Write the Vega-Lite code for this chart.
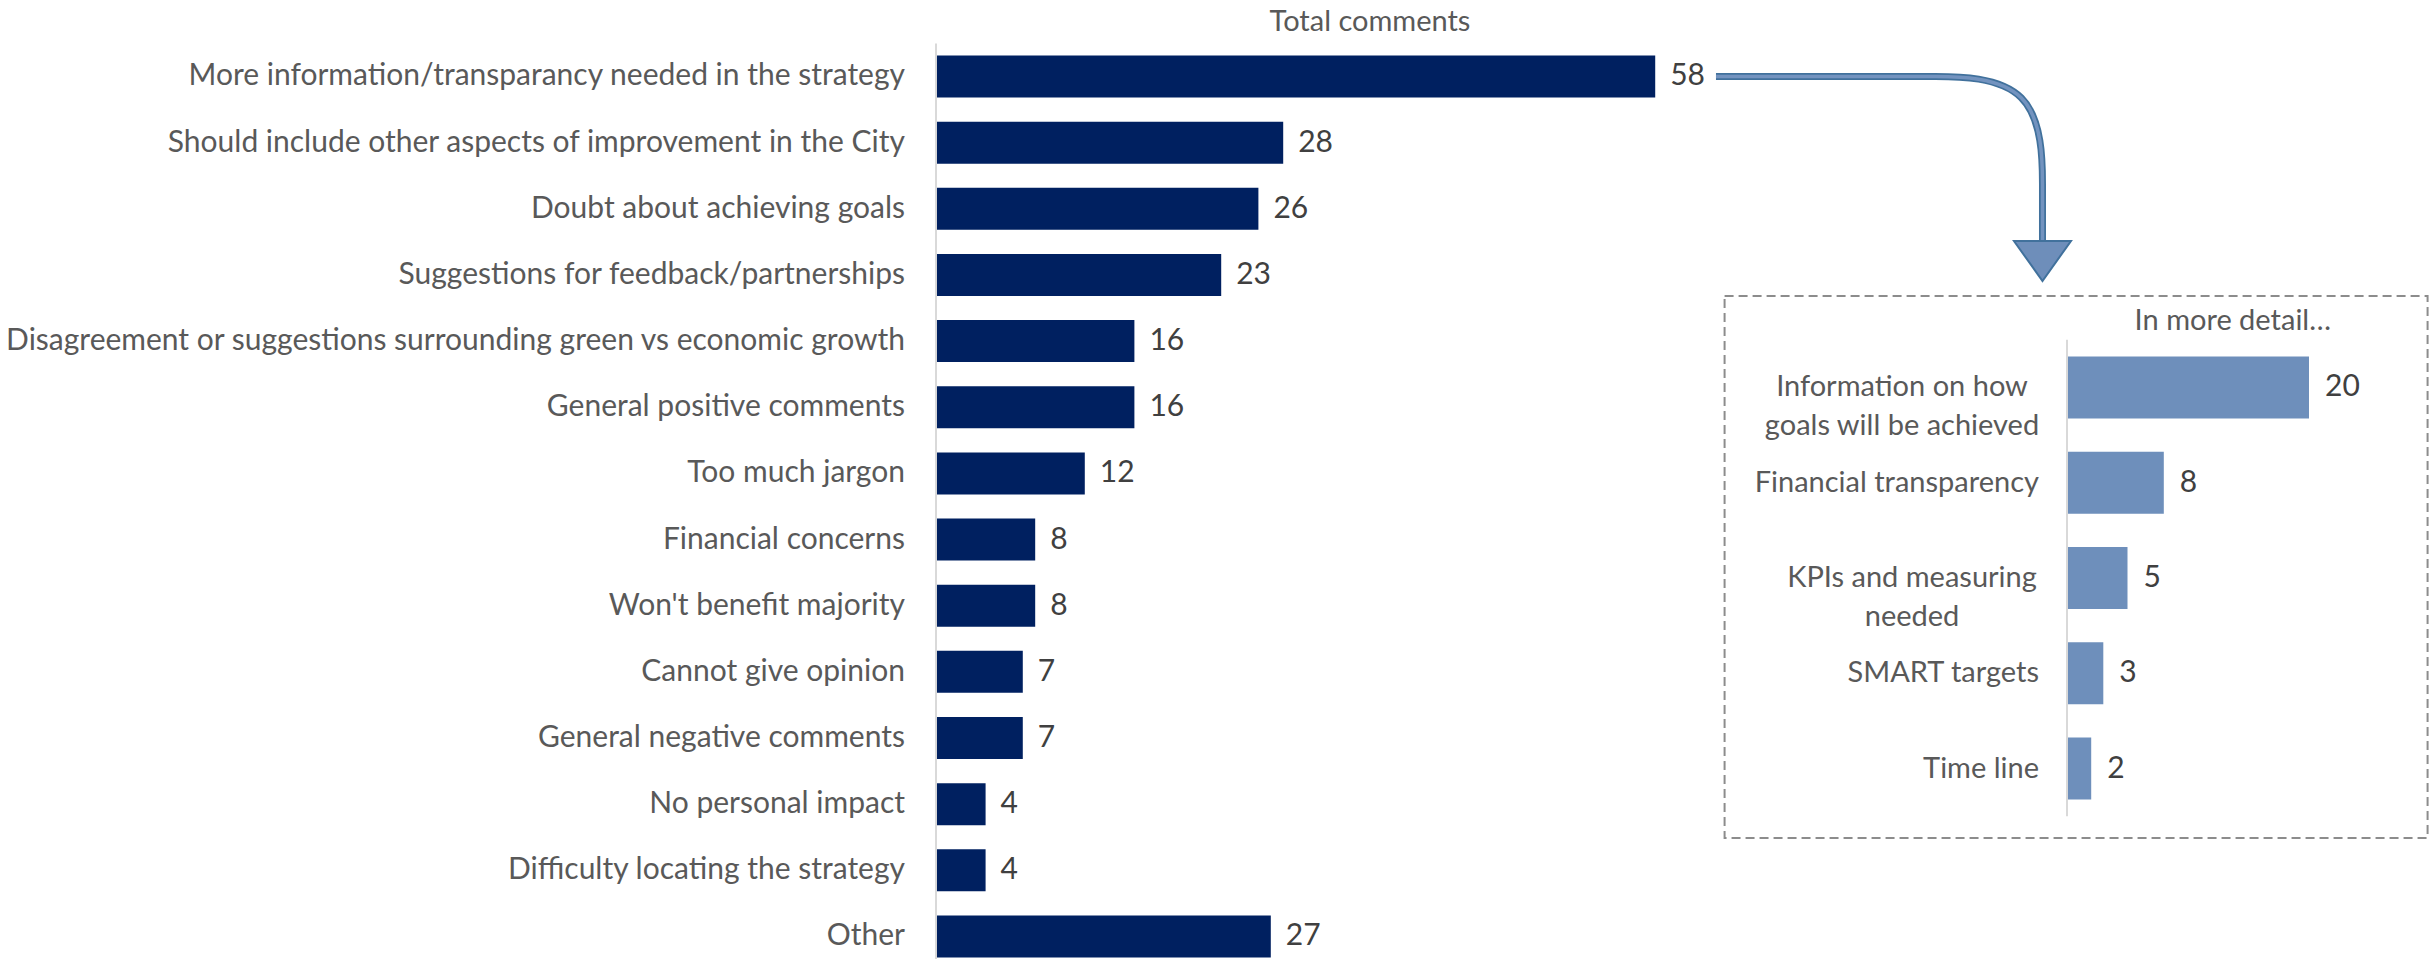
{
  "$schema": "https://vega.github.io/schema/vega-lite/v6.json",
  "width": 2430,
  "height": 959,
  "autosize": {"type": "none"},
  "padding": 0,
  "background": "white",
  "config": {"view": {"stroke": null}, "text": {"font": "Lato"}},
  "datasets": {
    "main": [
      {"category": "More information/transparancy needed in the strategy", "count": 58},
      {"category": "Should include other aspects of improvement in the City", "count": 28},
      {"category": "Doubt about achieving goals", "count": 26},
      {"category": "Suggestions for feedback/partnerships", "count": 23},
      {"category": "Disagreement or suggestions surrounding green vs economic growth", "count": 16},
      {"category": "General positive comments", "count": 16},
      {"category": "Too much jargon", "count": 12},
      {"category": "Financial concerns", "count": 8},
      {"category": "Won't benefit majority", "count": 8},
      {"category": "Cannot give opinion", "count": 7},
      {"category": "General negative comments", "count": 7},
      {"category": "No personal impact", "count": 4},
      {"category": "Difficulty locating the strategy", "count": 4},
      {"category": "Other", "count": 27}
    ],
    "detail": [
      {"category": "Information on how\ngoals will be achieved", "count": 20},
      {"category": "Financial transparency", "count": 8},
      {"category": "KPIs and measuring\nneeded", "count": 5},
      {"category": "SMART targets", "count": 3},
      {"category": "Time line", "count": 2}
    ]
  },
  "layer": [
    {
      "data": {"name": "main"},
      "encoding": {
        "y": {"field": "category", "type": "nominal", "sort": null, "axis": null,
              "scale": {"paddingInner": 0.365, "paddingOuter": 0.431, "align": 0.973}},
        "x": {"field": "count", "type": "quantitative", "axis": null,
              "scale": {"domain": [-75.48, 120.48], "nice": false, "zero": false}}
      },
      "layer": [
        {"mark": {"type": "bar", "color": "#002060"}, "encoding": {"x2": {"datum": 0}}},
        {"mark": {"type": "text", "align": "left", "baseline": "middle", "dx": 15, "fontSize": 30, "color": "#404040"},
         "encoding": {"text": {"field": "count", "type": "quantitative"}}},
        {"mark": {"type": "text", "align": "right", "baseline": "middle", "dx": -31, "fontSize": 30, "color": "#595959"},
         "encoding": {"x": {"datum": 0}, "text": {"field": "category", "type": "nominal"}}}
      ]
    },
    {
      "encoding": {
        "x": {"type": "quantitative", "axis": null,
              "scale": {"domain": [-75.48, 120.48], "nice": false, "zero": false}},
        "y": {"type": "quantitative", "axis": null,
              "scale": {"domain": [-1.1565, 13.3409], "reverse": true, "nice": false, "zero": false}}
      },
      "layer": [
        {"data": {"values": [{}]},
         "mark": {"type": "rule", "color": "#D9D9D9", "strokeWidth": 2},
         "encoding": {"x": {"datum": 0}, "y": {"datum": -0.5}, "y2": {"datum": 13.6}}},
        {"data": {"values": [{"title": "Total comments"}]},
         "mark": {"type": "text", "align": "center", "baseline": "middle", "fontSize": 29, "color": "#595959"},
         "encoding": {"x": {"datum": 35}, "y": {"datum": -0.828}, "text": {"field": "title", "type": "nominal"}}},
        {"data": {"values": [
          {"ax": 62.9, "ay": 0, "seq": 1},
          {"ax": 78.45, "ay": 0, "seq": 2},
          {"ax": 78.95, "ay": 0, "seq": 3},
          {"ax": 89.23, "ay": 0, "seq": 4},
          {"ax": 89.23, "ay": 1.93, "seq": 5},
          {"ax": 89.23, "ay": 2.03, "seq": 6},
          {"ax": 89.23, "ay": 2.55, "seq": 7}
        ]},
         "encoding": {"x": {"field": "ax", "type": "quantitative"}, "y": {"field": "ay", "type": "quantitative"}, "order": {"field": "seq", "type": "quantitative"}},
         "layer": [
           {"mark": {"type": "line", "interpolate": "basis", "color": "#41719C", "strokeWidth": 7, "strokeCap": "butt"}},
           {"mark": {"type": "line", "interpolate": "basis", "color": "#7393BF", "strokeWidth": 3.5, "strokeCap": "butt"}}
         ]},
        {"data": {"values": [{"ax": 89.23, "ay": 2.789}]},
         "mark": {"type": "point", "shape": "M-1,-0.702L1,-0.702L0,0.702Z", "size": 3249, "filled": true, "fill": "#6E8EBA", "stroke": "#41719C", "strokeWidth": 2, "opacity": 1},
         "encoding": {"x": {"field": "ax", "type": "quantitative"}, "y": {"field": "ay", "type": "quantitative"}}}
      ]
    },
    {
      "data": {"name": "detail"},
      "encoding": {
        "y": {"field": "category", "type": "nominal", "sort": null, "axis": null,
              "scale": {"range": [339.75, 816.25], "paddingInner": 0.349, "paddingOuter": 0.1745}},
        "x": {"field": "count", "type": "quantitative", "axis": null,
              "scale": {"domain": [-170.83, 30.0], "nice": false, "zero": false}}
      },
      "layer": [
        {"mark": {"type": "bar", "color": "#6E8FBB"}, "encoding": {"x2": {"datum": 0}}},
        {"mark": {"type": "text", "align": "left", "baseline": "middle", "dx": 16, "fontSize": 30, "color": "#404040"},
         "encoding": {"text": {"field": "count", "type": "quantitative"}}},
        {"transform": [{"filter": "indexof(datum.category, '\\n') < 0"}],
         "mark": {"type": "text", "align": "right", "baseline": "middle", "dx": -28, "fontSize": 29, "color": "#595959"},
         "encoding": {"x": {"datum": 0}, "text": {"field": "category", "type": "nominal"}}},
        {"transform": [{"filter": "datum.category === 'Information on how\\ngoals will be achieved'"}],
         "mark": {"type": "text", "align": "center", "baseline": "middle", "dx": -165, "fontSize": 29, "color": "#595959", "lineBreak": "\n", "lineHeight": 38.5},
         "encoding": {"x": {"datum": 0}, "text": {"field": "category", "type": "nominal"}}},
        {"transform": [{"filter": "datum.category === 'KPIs and measuring\\nneeded'"}],
         "mark": {"type": "text", "align": "center", "baseline": "middle", "dx": -155, "fontSize": 29, "color": "#595959", "lineBreak": "\n", "lineHeight": 38.5},
         "encoding": {"x": {"datum": 0}, "text": {"field": "category", "type": "nominal"}}}
      ]
    },
    {
      "encoding": {
        "x": {"type": "quantitative", "axis": null,
              "scale": {"domain": [-170.83, 30.0], "nice": false, "zero": false}},
        "y": {"type": "quantitative", "axis": null,
              "scale": {"domain": [-4.065, 5.998], "reverse": true, "nice": false, "zero": false}}
      },
      "layer": [
        {"data": {"values": [{}]},
         "mark": {"type": "rect", "fill": null, "fillOpacity": 0, "stroke": "#8C8C8C", "strokeWidth": 2, "strokeDash": [9, 5]},
         "encoding": {"x": {"datum": -28.3}, "x2": {"datum": 29.8}, "y": {"datum": -0.959}, "y2": {"datum": 4.728}}},
        {"data": {"values": [{}]},
         "mark": {"type": "rule", "color": "#D9D9D9", "strokeWidth": 2},
         "encoding": {"x": {"datum": 0}, "y": {"datum": -0.5}, "y2": {"datum": 4.5}}},
        {"data": {"values": [{"title": "In more detail…"}]},
         "mark": {"type": "text", "align": "center", "baseline": "middle", "fontSize": 29, "color": "#595959"},
         "encoding": {"x": {"datum": 13.7}, "y": {"datum": -0.697}, "text": {"field": "title", "type": "nominal"}}}
      ]
    }
  ],
  "resolve": {"scale": {"x": "independent", "y": "independent"}}
}
